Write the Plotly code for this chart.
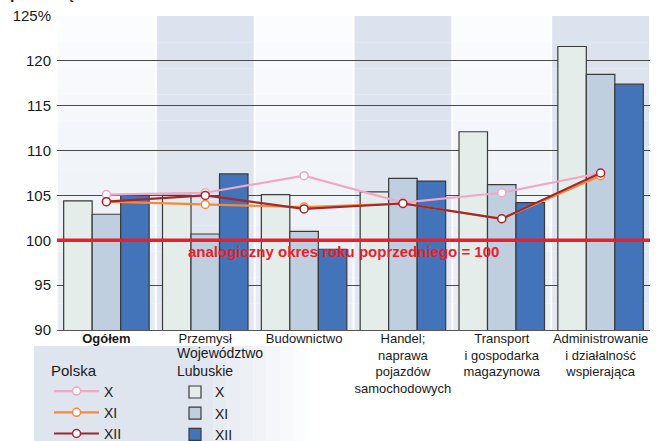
import plotly.graph_objects as go

categories = ["<b>Ogółem</b>", "Przemysł", "Budownictwo",
              "Handel;<br>naprawa<br>pojazdów<br>samochodowych",
              "Transport<br>i gospodarka<br>magazynowa",
              "Administrowanie<br>i działalność<br>wspierająca"]

# Województwo Lubuskie (bars)
lub_X = [104.4, 105.0, 105.1, 105.4, 112.1, 121.6]
lub_XI = [102.9, 100.7, 101.0, 106.9, 106.2, 118.5]
lub_XII = [105.0, 107.4, 99.0, 106.6, 104.2, 117.4]

# Polska (lines)
pl_X = [105.1, 105.3, 107.2, 104.2, 105.3, 107.5]
pl_XI = [104.3, 104.0, 103.7, 104.1, 102.4, 107.2]
pl_XII = [104.3, 105.0, 103.5, 104.1, 102.4, 107.5]

y_ticks = [90, 95, 100, 105, 110, 115, 120, 125]
y_ticktext = ["90", "95", "100", "105", "110", "115", "120", "125%"]

FONT = "Liberation Sans, Arial, sans-serif"
W, H = 659, 441
L, R, T, B = 57, 9, 16, 111
PW, PH = W - L - R, H - T - B

fig = go.Figure()

bar_colors = ["#e4ede9", "#bfcfdf", "#4374b9"]
for name, vals, col in zip(["X", "XI", "XII"], [lub_X, lub_XI, lub_XII], bar_colors):
    fig.add_trace(go.Bar(x=categories, y=vals, name=name,
                         marker=dict(color=col, line=dict(color="#3a3a3a", width=1.2)),
                         legend="legend2"))

line_colors = ["#f2a6c8", "#f58a3f", "#a3282c"]
for name, vals, col in zip(["X", "XI", "XII"], [pl_X, pl_XI, pl_XII], line_colors):
    fig.add_trace(go.Scatter(x=categories, y=vals, name=name, mode="lines+markers",
                             line=dict(color=col, width=2.2),
                             marker=dict(size=8, color="white", line=dict(color=col, width=1.5)),
                             legend="legend"))

shapes = []
# background bands with vertical gradient
nstrips = 12
for i in range(len(categories)):
    blue = (i % 2 == 1)
    for k in range(nstrips):
        y0 = 90 + 35 * k / nstrips
        y1 = 90 + 35 * (k + 1) / nstrips
        t = k / (nstrips - 1)  # 0 bottom -> 1 top
        if blue:
            c0, c1 = (226, 231, 240), (220, 227, 238)
        else:
            c0, c1 = (230, 235, 242), (251, 252, 254)
        c = tuple(int(round(a + (b - a) * t)) for a, b in zip(c0, c1))
        shapes.append(dict(type="rect", xref="x", yref="y", x0=i - 0.49, x1=i + 0.49, y0=y0, y1=y1,
                           fillcolor="rgb(%d,%d,%d)" % c, line=dict(width=0), layer="below"))

# legend panel (fading to the right)
panel_steps = 10
for k in range(panel_steps):
    x0 = 34 if k == 0 else 200 + (320 - 200) * (k - 1) / (panel_steps - 1)
    x1 = 200 + (320 - 200) * k / (panel_steps - 1)
    t = k / (panel_steps - 1)
    c = tuple(int(round(a + (255 - a) * t)) for a in (223, 229, 238))
    shapes.append(dict(type="rect", xref="paper", yref="paper",
                       x0=(x0 - L) / PW, x1=(x1 - L) / PW,
                       y0=-(H - T - PH) / PH - 0.01, y1=(T + PH - 346) / PH,
                       fillcolor="rgb(%d,%d,%d)" % c, line=dict(width=0), layer="below"))

# reference line at 100
shapes.append(dict(type="line", xref="paper", yref="y", x0=0, x1=1, y0=100, y1=100,
                   line=dict(color="#e8202a", width=3.5), layer="above"))

fig.update_layout(
    width=W, height=H,
    margin=dict(l=L, r=R, t=T, b=B, autoexpand=False),
    paper_bgcolor="white", plot_bgcolor="white",
    font=dict(family=FONT, color="#1a1a1a"),
    barmode="group", bargap=0.135, bargroupgap=0,
    shapes=shapes,
    showlegend=True,
    xaxis=dict(type="category", showgrid=False, ticks="", tickfont=dict(size=13, color="#1a1a1a"),
               showline=True, linecolor="#555555", linewidth=1, ticklabelstandoff=-4, automargin=False),
    yaxis=dict(range=[90, 125], tickvals=y_ticks, ticktext=y_ticktext, showgrid=True,
               gridcolor="#4a4a4a", gridwidth=1, zeroline=False, ticks="", automargin=False,
               tickfont=dict(size=15, color="#1a1a1a"), ticklabelstandoff=5),
    legend=dict(title=dict(text="Polska", font=dict(size=15)), font=dict(size=14),
                xref="container", yref="container",
                x=49 / W, y=1 - 356 / H, xanchor="left", yanchor="top", bgcolor="rgba(0,0,0,0)",
                itemwidth=45, orientation="v"),
    legend2=dict(title=dict(text="Województwo<br>Lubuskie", font=dict(size=14)), font=dict(size=14),
                 xref="container", yref="container",
                 x=175 / W, y=1 - 340 / H, xanchor="left", yanchor="top", bgcolor="rgba(0,0,0,0)",
                 orientation="v"),
    annotations=[
        dict(text="<b>analogiczny okres roku poprzedniego = 100</b>", xref="paper", yref="y",
             x=(343 - L) / PW, y=98.7, showarrow=False, font=dict(size=15, color="#e8202a")),
        dict(text="<b>przedsiębiorstw w 2017 r.</b>", xref="paper", yref="paper",
             x=(8 - L) / PW, y=1 + 12 / PH, xanchor="left", yanchor="bottom", showarrow=False,
             font=dict(size=16, color="#1a1a1a")),
    ],
)

fig.write_html("out.html", config={"displayModeBar": False},
               post_script="document.body.style.margin='0';document.body.style.overflow='hidden';")
